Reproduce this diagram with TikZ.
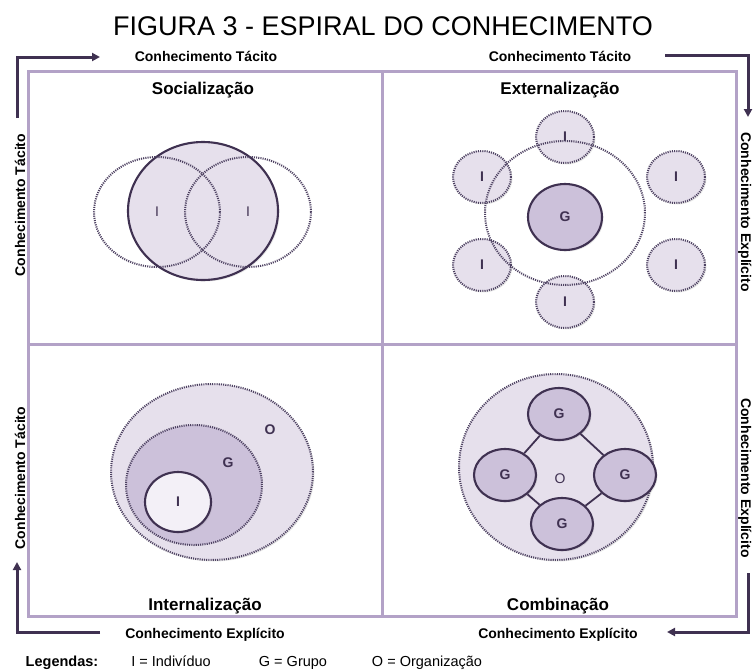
\documentclass[tikz,border=0pt]{standalone}
\usepackage{fontspec}
\setmainfont{Liberation Sans}
\usetikzlibrary{shapes.geometric,arrows.meta,shadows}
\definecolor{framec}{HTML}{B3A2C7}
\definecolor{ink}{HTML}{3F3151}
\definecolor{dotc}{HTML}{4E4262}
\definecolor{pale}{HTML}{E6E0EC}
\definecolor{midc}{HTML}{CCC1DA}
\definecolor{paler}{HTML}{F3F0F7}
\begin{document}
\begin{tikzpicture}[x=1pt, y=-1pt,
  ring/.style = {draw=ink, ellipse, line width=2.1pt, inner sep=0pt, text=ink},
  dotring/.style = {draw=dotc, ellipse, line width=2pt, dash pattern=on 1.1pt off 1.1pt, inner sep=0pt, text=ink},
  shade/.style = {drop shadow={opacity=0.18, shadow xshift=1.5pt, shadow yshift=-1.5pt}},
  axis/.style = {draw=ink, line width=3pt, -{Triangle[length=8pt,width=8pt]}},
  quad/.style = {font=\fontsize{17}{20}\selectfont\bfseries, anchor=base},
  axlbl/.style = {font=\fontsize{14}{16}\selectfont\bfseries, anchor=base},
  legend/.style = {font=\fontsize{14.5}{16}\selectfont, anchor=base},
  inl/.style = {font=\fontsize{14}{16}\selectfont\bfseries, text=ink}]
\useasboundingbox (0,0) rectangle (753,670);

% title
\node[font=\fontsize{27}{30}\selectfont, anchor=base] (title) at (383,35) {FIGURA 3 - ESPIRAL DO CONHECIMENTO};

% frame
\draw[framec, line width=3pt] (28,71) rectangle (736,616);
\draw[framec, line width=3pt] (382,71) -- (382,616);
\draw[framec, line width=3pt] (28,344) -- (736,344);

% quadrant titles
\node[quad] (soc) at (203,94) {Socialização};
\node[quad] (ext) at (560,94) {Externalização};
\node[quad] (int) at (205,610) {Internalização};
\node[quad] (comb) at (558,610) {Combinação};

% socializacao
\node[ring, fill=pale, shade, minimum width=150, minimum height=138] (sbig) at (203,211) {};
\node[dotring, minimum width=126, minimum height=110, font=\fontsize{14}{16}\selectfont] (s1) at (157,212) {I};
\node[dotring, minimum width=126, minimum height=110, font=\fontsize{14}{16}\selectfont] (s2) at (248,212) {I};

% externalizacao
\foreach \p [count=\i] in {(565,137),(482,177),(676,177),(482,265),(676,265),(565,302)}
  \node[dotring, fill=pale, shade, minimum width=58, minimum height=52, inl] (e\i) at \p {I};
\node[dotring, minimum width=160, minimum height=144] (ering) at (565,213) {};
\node[ring, fill=midc, shade, minimum width=74, minimum height=66, inl] (eg) at (565,217) {G};

% internalizacao
\node[dotring, fill=pale, shade, minimum width=202, minimum height=176] (io) at (212,472) {};
\node[dotring, fill=midc, minimum width=136, minimum height=120] (ig) at (194,485) {};
\node[ring, fill=paler, shade, minimum width=66, minimum height=60, inl] (ii) at (178,502) {I};
\node[inl] (iol) at (270,430) {O};
\node[inl] (igl) at (228,463) {G};

% combinacao
\node[dotring, fill=pale, shade, minimum width=194, minimum height=186] (co) at (556,467) {};
\node[ring, fill=midc, shade, minimum width=62, minimum height=52, inl] (c1) at (559,414) {G};
\node[ring, fill=midc, shade, minimum width=62, minimum height=52, inl] (c2) at (505,475) {G};
\node[ring, fill=midc, shade, minimum width=62, minimum height=52, inl] (c3) at (625,475) {G};
\node[ring, fill=midc, shade, minimum width=62, minimum height=52, inl] (c4) at (562,524) {G};
\node[font=\fontsize{14}{16}\selectfont, text=ink] (col) at (560,479) {O};
\draw[ink, line width=1.8pt] (c1) -- (c2);
\draw[ink, line width=1.8pt] (c1) -- (c3);
\draw[ink, line width=1.8pt] (c2) -- (c4);
\draw[ink, line width=1.8pt] (c3) -- (c4);

% axes
\coordinate (a1) at (17,118);
\coordinate (a2) at (100,57);
\coordinate (b1) at (665,55);
\coordinate (b2) at (748,117);
\coordinate (c5) at (748,573);
\coordinate (c6) at (667,632);
\coordinate (d1) at (100,632);
\coordinate (d2) at (17,562);
\draw[axis] (a1) |- (a2);
\draw[axis] (b1) -| (b2);
\draw[axis] (c5) |- (c6);
\draw[axis] (d1) -| (d2);

\node[axlbl] (t1) at (206,61) {Conhecimento Tácito};
\node[axlbl] (t2) at (560,61) {Conhecimento Tácito};
\node[axlbl] (x1) at (205,638) {Conhecimento Explícito};
\node[axlbl] (x2) at (558,638) {Conhecimento Explícito};
\node[axlbl, rotate=90] (t3) at (25,205) {Conhecimento Tácito};
\node[axlbl, rotate=90] (t4) at (25,478) {Conhecimento Tácito};
\node[axlbl, rotate=-90] (x3) at (741,212) {Conhecimento Explícito};
\node[axlbl, rotate=-90] (x4) at (741,478) {Conhecimento Explícito};

% legend
\node[legend, font=\fontsize{14.5}{16}\selectfont\bfseries] (leg) at (62,666) {Legendas:};
\node[legend] (l1) at (171,666) {I = Indivíduo};
\node[legend] (l2) at (293,666) {G = Grupo};
\node[legend] (l3) at (427,666) {O = Organização};
\end{tikzpicture}
\end{document}
